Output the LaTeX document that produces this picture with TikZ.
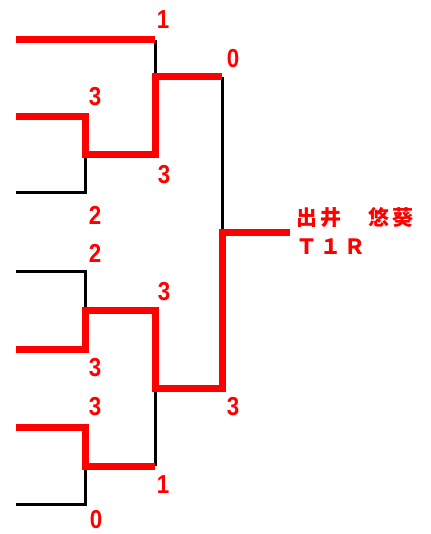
\documentclass[tikz,border=0pt]{standalone}
\usepackage{fontspec}
\setmainfont{Liberation Sans}
\newfontfamily\jpfont[LetterSpace=15]{Noto Sans CJK JP}
\usepackage{tikz}
\usetikzlibrary{positioning}
\tikzstyle{lose}=[draw=black, line width=3pt]
\tikzstyle{win}=[draw=red, line width=7pt]
\tikzstyle{sc}=[text=red, inner sep=0pt, xscale=0.86, font=\bfseries\fontsize{26}{26}\selectfont]
\tikzstyle{nm}=[text=red, inner sep=0pt, anchor=west, font=\jpfont\bfseries\fontsize{21}{24}\selectfont]

\begin{document}
\begin{tikzpicture}[x=1pt, y=-1pt]
    \useasboundingbox (0,0) rectangle (430,534);
    % entries
    \coordinate (E1) at (16,40);
    \coordinate (E2) at (16,117);
    \coordinate (E3) at (16,193);
    \coordinate (E4) at (16,271);
    \coordinate (E5) at (16,349);
    \coordinate (E6) at (16,427);
    \coordinate (E7) at (16,504);
    % joints
    \coordinate (B1) at (155,40);
    \coordinate (M1) at (85,155);
    \coordinate (N1) at (155,155);
    \coordinate (M2) at (155,77);
    \coordinate (N2) at (222,77);
    \coordinate (M3) at (85,310);
    \coordinate (N3) at (155,310);
    \coordinate (M4) at (85,466);
    \coordinate (N4) at (155,466);
    \coordinate (M5) at (155,388);
    \coordinate (N5) at (222,388);
    \coordinate (M6) at (222,232);
    \coordinate (W)  at (290,232);

    \draw [lose] (E3) -| (M1);
    \draw [lose] (B1) -- (M2);
    \draw [lose] (E4) -| (M3);
    \draw [lose] (E7) -| (M4);
    \draw [lose] (N4) -- (M5);
    \draw [lose] (N2) -- (M6);

    \draw [win] (E1) -- (B1);
    \draw [win] (E2) -| (M1) -- (N1) |- (N2);
    \draw [win] (E5) -| (M3) -- (N3) |- (N5) |- (W);
    \draw [win] (E6) -| (M4) -- (N4);

    \node [sc] (s1)  at (163,20)  {1};
    \node [sc] (s2)  at (95,97)   {3};
    \node [sc] (s3)  at (95,215)  {2};
    \node [sc] (s4)  at (164,175) {3};
    \node [sc] (s5)  at (233,59)  {0};
    \node [sc] (s6)  at (95,253)  {2};
    \node [sc] (s7)  at (164,292) {3};
    \node [sc] (s8)  at (95,368)  {3};
    \node [sc] (s9)  at (95,407)  {3};
    \node [sc] (s10) at (233,407) {3};
    \node [sc] (s11) at (163,485) {1};
    \node [sc] (s12) at (96,520)  {0};

    \node [nm] (name) at (296,218) {出井　悠葵};
    \node [nm] (team) at (296,247) {Ｔ１Ｒ};
\end{tikzpicture}
\end{document}
